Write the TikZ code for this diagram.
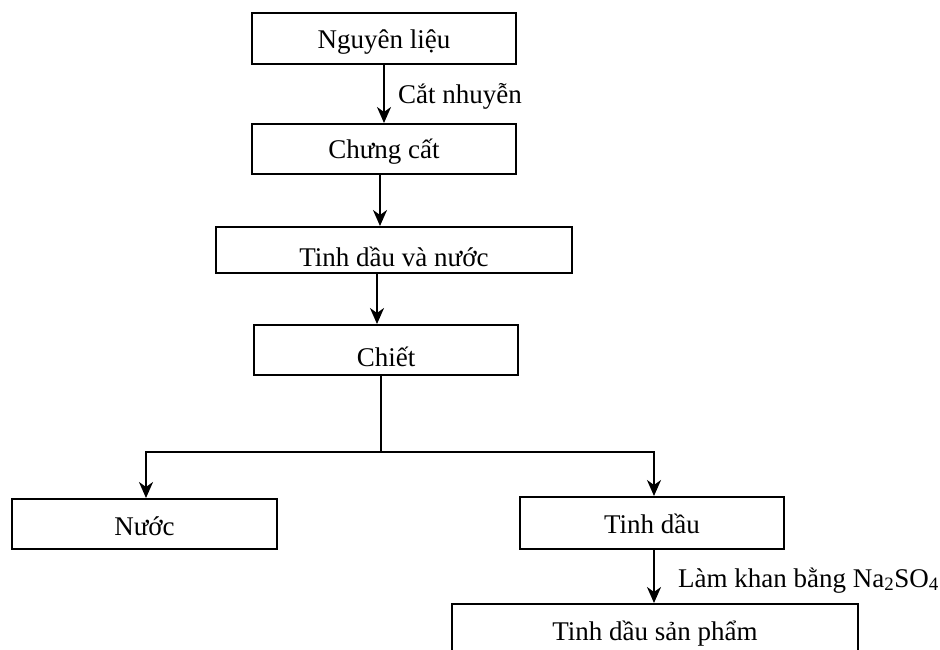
\documentclass[tikz,border=0pt]{standalone}
\usepackage{fontspec}
\setmainfont{Liberation Serif}
\usetikzlibrary{arrows.meta}
\begin{document}
\begin{tikzpicture}[x=1pt,y=-1pt,
  font=\fontsize{27}{32}\selectfont,
  box/.style={draw, line width=2pt, inner sep=0pt, text depth=0pt},
  conn/.style={line width=2pt},
  arr/.style={conn, -{Stealth[length=16pt,width=14pt,inset=5pt]}},
  lbl/.style={anchor=base west, inner sep=0pt}]
\useasboundingbox (0,0) rectangle (940,649);
\clip (0,0) rectangle (940,649);
\fill[white] (0,0) rectangle (940,649);
\node[box, minimum width=264pt, minimum height=51pt, text height=19pt] (b1) at (384,38.5) {Nguyên liệu};
\node[box, minimum width=264pt, minimum height=50pt, text height=18pt] (b2) at (384,149) {Chưng cất};
\node[box, minimum width=356pt, minimum height=46pt, text height=32pt] (b3) at (394,250) {Tinh dầu và nước};
\node[box, minimum width=264pt, minimum height=50pt, text height=32pt] (b4) at (386,350) {Chiết};
\node[box, minimum width=265pt, minimum height=50pt, text height=22pt] (b5) at (144.5,524) {Nước};
\node[box, minimum width=264pt, minimum height=52pt, text height=20pt] (b6) at (652,523) {Tinh dầu};
\node[box, minimum width=406pt, minimum height=56pt, text height=16pt] (b7) at (655,632) {Tinh dầu sản phẩm};
\coordinate (c2) at (380,0);
\coordinate (c3) at (377,0);
\coordinate (j) at (381,452);
\coordinate (jl) at (146,452);
\coordinate (jr) at (654,452);
\draw[arr] (b1.south) -- (b2.north);
\draw[arr] (b2.south -| c2) -- (b3.north -| c2);
\draw[arr] (b3.south -| c3) -- (b4.north -| c3);
\draw[conn] (b4.south -| j) -- (j);
\draw[arr] (j) -- (jl) -- (b5.north -| jl);
\draw[arr] (j) -- (jr) -- (b6.north -| jr);
\draw[arr] (b6.south -| jr) -- (b7.north -| jr);
\node[lbl] (l1) at (398,103) {Cắt nhuyễn};
\node[lbl] (l2) at (678,587) {Làm khan bằng Na\textsubscript{2}SO\textsubscript{4}};
\end{tikzpicture}
\end{document}
